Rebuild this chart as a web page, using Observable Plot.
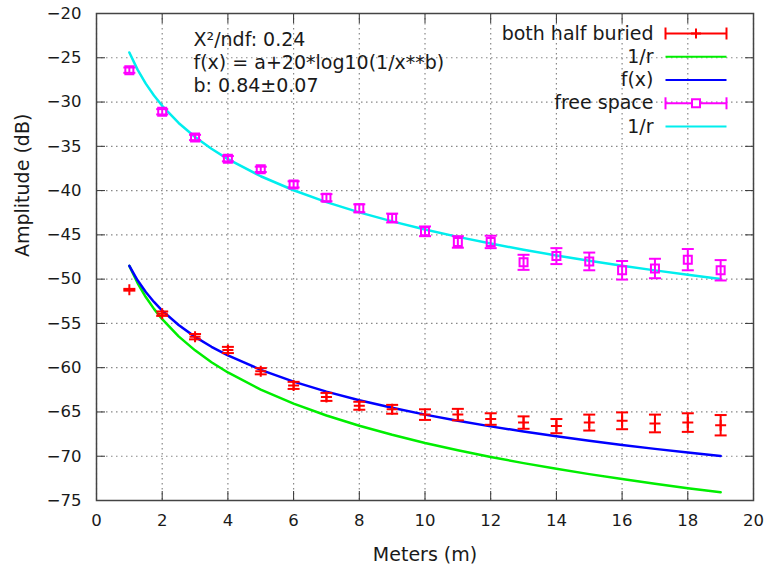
<!DOCTYPE html>
<html><head><meta charset="utf-8">
<script src="https://cdn.jsdelivr.net/npm/d3@7"></script>
<script src="https://cdn.jsdelivr.net/npm/@observablehq/plot@0.6"></script>
<style>
body{margin:0;background:#fff}
#chart{width:764px;height:569px}
</style>
</head><body><div id="chart"></div>
<script>
// ---- data ----
const distances = [1,2,3,4,5,6,7,8,9,10,11,12,13,14,15,16,17,18,19];
const buriedAmp = [-51.2,-53.9,-56.5,-58.0,-60.4,-62.0,-63.3,-64.3,-64.7,-65.3,-65.3,-65.8,-66.2,-66.6,-66.2,-66.0,-66.3,-66.2,-66.5];
const buriedErr = [0.1,0.25,0.3,0.35,0.35,0.4,0.45,0.45,0.5,0.6,0.65,0.65,0.7,0.8,0.9,0.95,1.0,1.05,1.15];
const freeAmp   = [-26.4,-31.1,-34.0,-36.4,-37.6,-39.3,-40.8,-42.0,-43.1,-44.6,-45.8,-45.8,-48.1,-47.4,-48.0,-49.0,-48.8,-47.8,-49.0];
const freeErr   = [0.3,0.3,0.3,0.3,0.3,0.35,0.4,0.45,0.5,0.55,0.65,0.7,0.85,0.9,1.0,1.05,1.1,1.2,1.15];

const curveX     = [1,1.25,1.5,1.75,2,2.5,3,3.5,4,5,6,7,8,9,10,11,12,13,14,15,16,17,18,19];
const buried1r   = [-48.5,-50.44,-52.02,-53.36,-54.52,-56.46,-58.04,-59.38,-60.54,-62.48,-64.06,-65.40,-66.56,-67.58,-68.5,-69.33,-70.08,-70.78,-71.42,-72.02,-72.58,-73.11,-73.61,-74.08];
const buriedFit  = [-48.5,-50.13,-51.46,-52.58,-53.56,-55.18,-56.52,-57.64,-58.62,-60.24,-61.57,-62.70,-63.67,-64.53,-65.3,-66.0,-66.63,-67.21,-67.75,-68.26,-68.73,-69.17,-69.59,-69.98];
const free1r     = [-24.4,-26.34,-27.92,-29.26,-30.42,-32.36,-33.94,-35.28,-36.44,-38.38,-39.96,-41.30,-42.46,-43.48,-44.4,-45.23,-45.98,-46.68,-47.32,-47.92,-48.48,-49.01,-49.51,-49.98];

const xTicks = [0,2,4,6,8,10,12,14,16,18,20];
const yTicks = [-20,-25,-30,-35,-40,-45,-50,-55,-60,-65,-70,-75];

const annotationLines = ["X²/ndf: 0.24","f(x) = a+20*log10(1/x**b)","b: 0.84±0.07"];
const legendLabels = ["both half buried","1/r","f(x)","free space","1/r"];
const legendColors = ["#ff0000","#00ee00","#0000ff","#ff00ff","#00eeee"];
const legendKinds  = ["errPlus","line","line","errSquare","line"];

// ---- custom symbols ----
const rOf = s => Math.sqrt(s/Math.PI);
const hline = {draw(c,s){const r=rOf(s);c.moveTo(-r,0);c.lineTo(r,0);}};
const vline = {draw(c,s){const r=rOf(s);c.moveTo(0,-r);c.lineTo(0,r);}};
const plusSym = {draw(c,s){const r=rOf(s);c.moveTo(-r,0);c.lineTo(r,0);c.moveTo(0,-r);c.lineTo(0,r);}};
const squareSym = {draw(c,s){const r=rOf(s);c.moveTo(-r,-r);c.lineTo(r,-r);c.lineTo(r,r);c.lineTo(-r,r);c.closePath();}};

const buried = distances.map((d,i)=>({x:d,y:buriedAmp[i],lo:buriedAmp[i]-buriedErr[i],hi:buriedAmp[i]+buriedErr[i]}));
const free = distances.map((d,i)=>({x:d,y:freeAmp[i],lo:freeAmp[i]-freeErr[i],hi:freeAmp[i]+freeErr[i]}));
const curve = (ys)=>curveX.map((x,i)=>({x,y:ys[i]}));

function errMarks(data,color,sym,r){
  return [
    Plot.ruleX(data,{x:"x",y1:"lo",y2:"hi",stroke:color,strokeWidth:2}),
    Plot.dot(data,{x:"x",y:"lo",symbol:hline,r:6,stroke:color,strokeWidth:2}),
    Plot.dot(data,{x:"x",y:"hi",symbol:hline,r:6,stroke:color,strokeWidth:2}),
    Plot.dot(data,{x:"x",y:"y",symbol:sym,r:r,stroke:color,strokeWidth:2,fill:"none"})
  ];
}

const FONT = "DejaVu Sans, sans-serif";
const LABEL_SIZE = 19;
const legendMarks = [];
const rowDy = [20,43.3,66.5,89.8,113];
legendLabels.forEach((lab,i)=>{
  legendMarks.push(Plot.text([lab],{frameAnchor:"top-right",dx:-100,dy:rowDy[i],textAnchor:"end",lineAnchor:"middle",fontSize:LABEL_SIZE,fill:"#1a1a1a"}));
  const col = legendColors[i];
  legendMarks.push(Plot.dot([0],{frameAnchor:"top-right",dx:-57.5,dy:rowDy[i],symbol:hline,r:30.5,stroke:col,strokeWidth:2}));
  if(legendKinds[i]!=="line"){
    legendMarks.push(Plot.dot([0],{frameAnchor:"top-right",dx:-88,dy:rowDy[i],symbol:vline,r:6,stroke:col,strokeWidth:2}));
    legendMarks.push(Plot.dot([0],{frameAnchor:"top-right",dx:-27,dy:rowDy[i],symbol:vline,r:6,stroke:col,strokeWidth:2}));
    legendMarks.push(Plot.dot([0],{frameAnchor:"top-right",dx:-57.5,dy:rowDy[i],symbol:legendKinds[i]==="errPlus"?plusSym:squareSym,r:legendKinds[i]==="errPlus"?5:4,stroke:col,strokeWidth:2,fill:"white"}));
  }
});

const chart = Plot.plot({
  width:764, height:569,
  marginLeft:96, marginRight:11, marginTop:13, marginBottom:69,
  style:{fontFamily:FONT, background:"#fff"},
  x:{domain:[0,20]},
  y:{domain:[-75,-20]},
  marks:[
    Plot.gridX(xTicks,{stroke:"#888",strokeOpacity:1,strokeDasharray:"1.5,3.5",strokeWidth:1.2}),
    Plot.gridY(yTicks,{stroke:"#888",strokeOpacity:1,strokeDasharray:"1.5,3.5",strokeWidth:1.2}),
    Plot.axisX(xTicks,{anchor:"bottom",tickSize:-9,tickPadding:23,fontSize:16.5,stroke:"#333",fill:"#1a1a1a",label:null}),
    Plot.axisX(xTicks,{anchor:"top",tickSize:-9,tickFormat:()=>"",stroke:"#333",label:null}),
    Plot.axisY(yTicks,{anchor:"left",tickSize:-9,tickPadding:24,fontSize:16.5,stroke:"#333",fill:"#1a1a1a",label:null}),
    Plot.axisY(yTicks,{anchor:"right",tickSize:-9,tickFormat:()=>"",stroke:"#333",label:null}),
    Plot.text(["Meters (m)"],{frameAnchor:"bottom",dy:54,lineAnchor:"middle",fontSize:LABEL_SIZE,fill:"#1a1a1a"}),
    Plot.text(["Amplitude (dB)"],{frameAnchor:"left",dx:-74,rotate:-90,lineAnchor:"middle",fontSize:LABEL_SIZE,fill:"#1a1a1a"}),
    Plot.line(curve(buried1r),{x:"x",y:"y",stroke:legendColors[1],strokeWidth:2.5}),
    Plot.line(curve(buriedFit),{x:"x",y:"y",stroke:legendColors[2],strokeWidth:2.5}),
    Plot.line(curve(free1r),{x:"x",y:"y",stroke:legendColors[4],strokeWidth:2.5}),
    ...errMarks(buried,legendColors[0],plusSym,5.5),
    ...errMarks(free,legendColors[3],squareSym,4),
    ...annotationLines.map((t,i)=>Plot.text([t],{frameAnchor:"top-left",dx:97,dy:26+i*23,textAnchor:"start",lineAnchor:"middle",fontSize:LABEL_SIZE,fill:"#1a1a1a"})),
    ...legendMarks,
    Plot.frame({stroke:"#444",strokeWidth:1.5})
  ]
});
document.getElementById("chart").append(chart);
</script>
</body></html>
